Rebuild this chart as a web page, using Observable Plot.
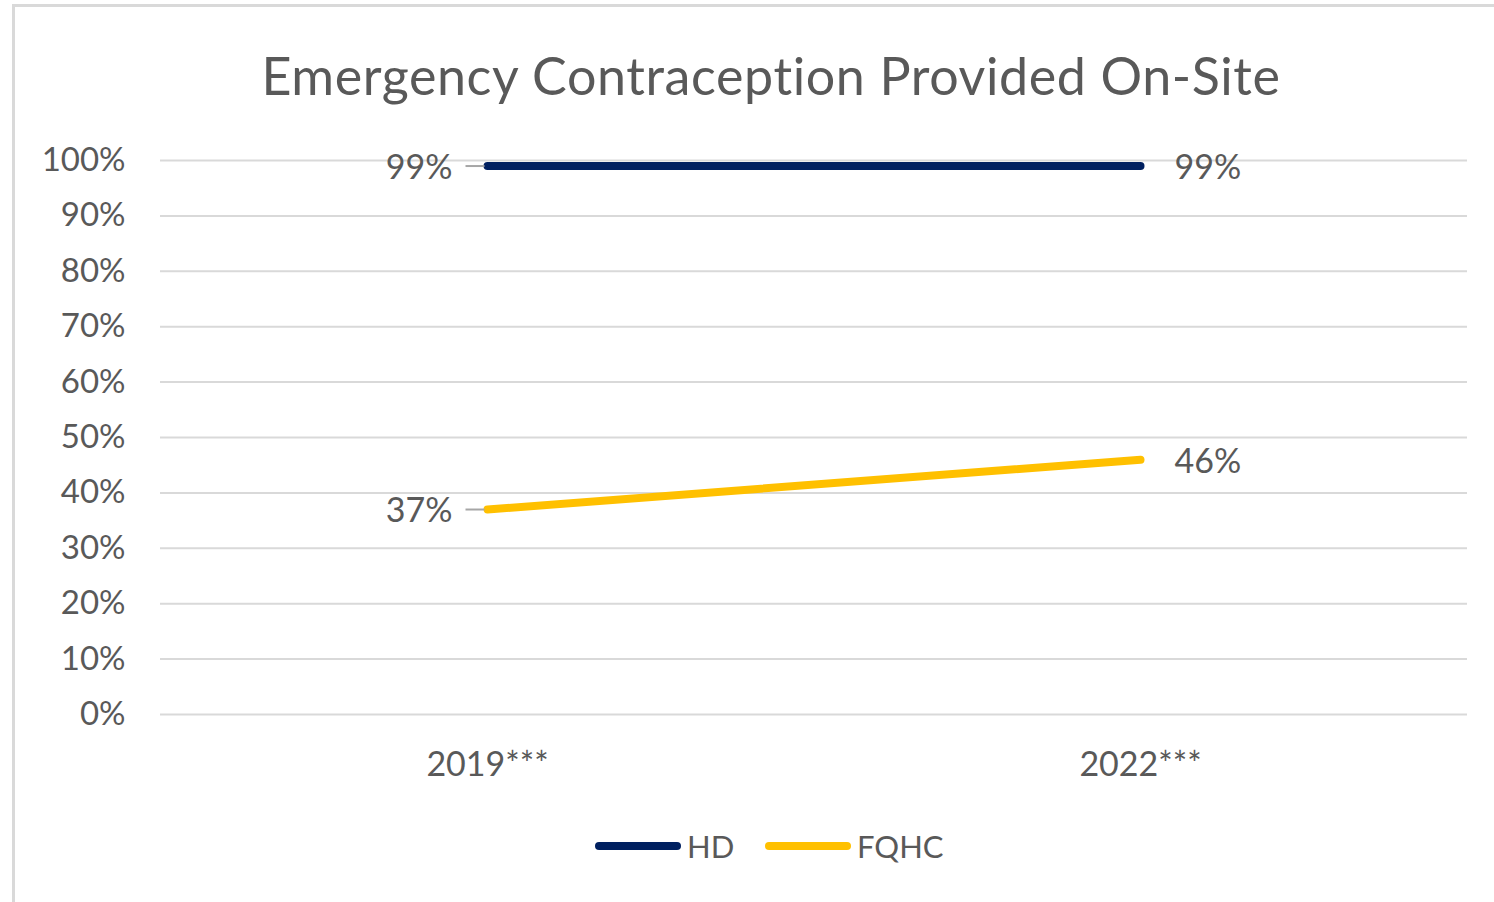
<!DOCTYPE html>
<html>
<head>
<meta charset="utf-8">
<script src="https://cdn.jsdelivr.net/npm/d3@7"></script>
<script src="https://cdn.jsdelivr.net/npm/@observablehq/plot@0.6"></script>
<style>
  html, body { margin: 0; padding: 0; background: #fff; }
  body { width: 1494px; height: 902px; overflow: hidden; position: relative; font-family: Lato, "Open Sans", sans-serif; }
  #frame { position: absolute; left: 12px; top: 4px; width: 1600px; height: 1000px; border-left: 3px solid #d9d9d9; border-top: 3px solid #d9d9d9; box-sizing: border-box; }
  #title { position: absolute; left: 0; width: 1542px; top: 49px; text-align: center; font-size: 52px; color: #595959; line-height: 1; letter-spacing: 0.6px; }
  #chart { position: absolute; left: 0; top: 120px; }
  #legend { position: absolute; top: 826px; left: 0; width: 1494px; height: 40px; font-size: 31px; color: #595959; }
  .lg { position: absolute; top: 0; display: flex; align-items: center; height: 40px; }
  .sw { width: 86px; height: 8px; border-radius: 4px; margin-right: 6px; }
</style>
</head>
<body>
<div id="frame"></div>
<div id="title">Emergency Contraception Provided On-Site</div>
<div id="chart"></div>
<div id="legend"></div>
<script>
const years = ["2019***", "2022***"];
const seriesNames = ["HD", "FQHC"];
const seriesColors = ["#002060", "#FFC000"];
const hdValues = [99, 99];
const fqhcValues = [37, 46];
const yTicks = [0, 10, 20, 30, 40, 50, 60, 70, 80, 90, 100];

const data = [];
years.forEach((yr, i) => {
  data.push({year: yr, series: "HD", value: hdValues[i], idx: i});
  data.push({year: yr, series: "FQHC", value: fqhcValues[i], idx: i});
});
const leftPts = data.filter(d => d.idx === 0);
const rightPts = data.filter(d => d.idx === 1);

const leader = {draw(ctx) { ctx.moveTo(-22, 0); ctx.lineTo(-3, 0); }};

const plot = Plot.plot({
  width: 1494,
  height: 782,
  marginTop: 40,
  marginBottom: 188,
  marginLeft: 160,
  marginRight: 27,
  style: {fontFamily: "Lato, 'Open Sans', sans-serif", background: "transparent", color: "#595959"},
  x: {type: "point", domain: years, padding: 0.5, label: null},
  y: {domain: [0, 100], label: null},
  color: {domain: seriesNames, range: seriesColors},
  marks: [
    Plot.ruleY(yTicks, {stroke: "#d9d9d9", strokeWidth: 2}),
    Plot.axisY({ticks: yTicks, tickFormat: d => d + "%", tickSize: 0, tickPadding: 35, fontSize: 33, fill: "#595959", label: null}),
    Plot.axisX({tickSize: 0, tickPadding: 37, fontSize: 34, fill: "#595959", label: null}),
    Plot.line(data, {x: "year", y: "value", z: "series", stroke: "series", strokeWidth: 8, strokeLinecap: "round"}),
    Plot.dot(leftPts, {x: "year", y: "value", symbol: leader, stroke: "#a6a6a6", strokeWidth: 2, fill: "none", r: 5}),
    Plot.text(leftPts, {x: "year", y: "value", text: d => d.value + "%", textAnchor: "end", dx: -35, dy: 2, fontSize: 34, fill: "#595959"}),
    Plot.text(rightPts, {x: "year", y: "value", text: d => d.value + "%", textAnchor: "start", dx: 34, dy: 2, fontSize: 34, fill: "#595959"})
  ]
});
document.getElementById("chart").appendChild(plot);

const legend = document.getElementById("legend");
const lefts = [595, 765];
seriesNames.forEach((s, i) => {
  const item = document.createElement("div");
  item.className = "lg";
  item.style.left = lefts[i] + "px";
  const sw = document.createElement("div");
  sw.className = "sw";
  sw.style.background = seriesColors[i];
  const t = document.createElement("span");
  t.textContent = s;
  item.appendChild(sw);
  item.appendChild(t);
  legend.appendChild(item);
});
</script>
</body>
</html>
